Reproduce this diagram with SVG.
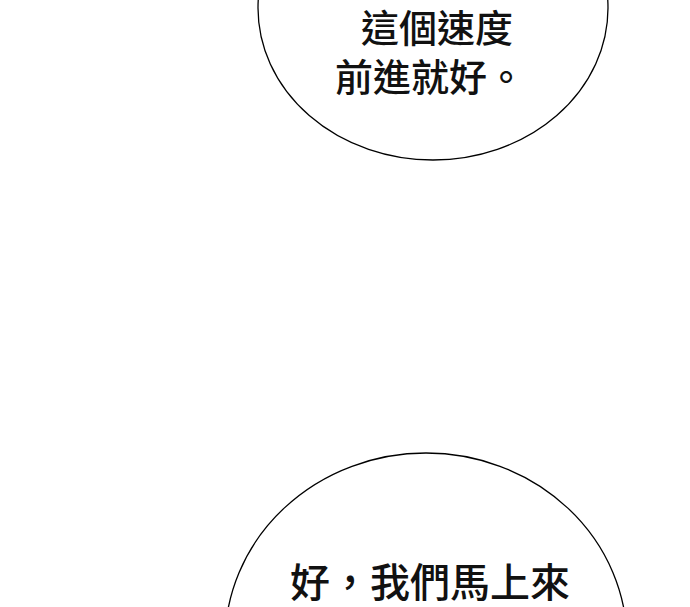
<svg xmlns="http://www.w3.org/2000/svg" width="690" height="607" viewBox="0 0 690 607">
<style>
.b{fill:#fff;stroke:#000;stroke-width:1.3}
.t{font-family:"Noto Sans CJK TC","Noto Sans CJK SC",sans-serif;font-size:38px;fill:#111;text-anchor:middle;font-weight:500}
</style>
<rect width="690" height="607" fill="#fff"/>
<g id="bubble1">
<ellipse class="b" cx="433" cy="8" rx="175" ry="152"/>
<text class="t" x="437" y="42">這個速度</text>
<text class="t" x="430" y="91">前進就好。</text>
</g>
<g id="bubble2">
<ellipse class="b" cx="426" cy="642" rx="201" ry="189"/>
<text class="t" x="430" y="597" style="font-size:40px">好，我們馬上來</text>
</g>
</svg>
